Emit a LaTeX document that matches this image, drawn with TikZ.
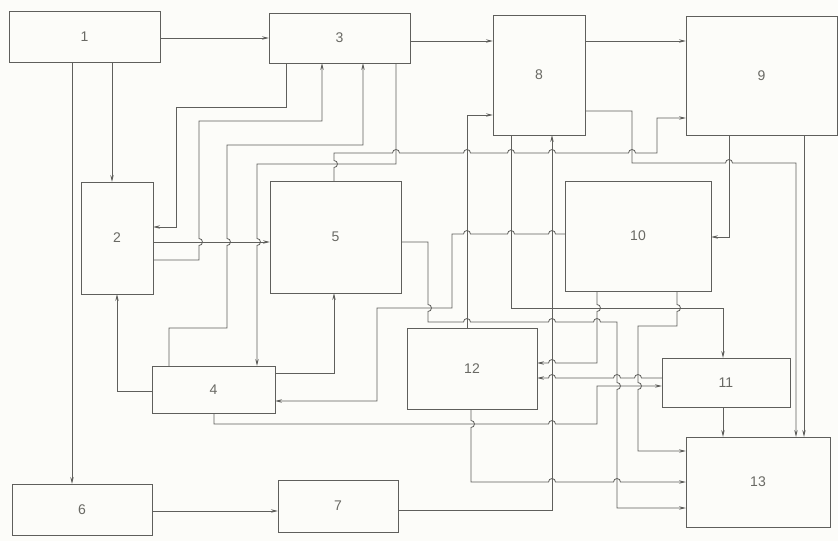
\documentclass[tikz,border=0pt]{standalone}
\usepackage{fontspec}
\setmainfont{Liberation Sans}
\usetikzlibrary{arrows.meta}
\definecolor{lc}{RGB}{95,95,92}
\definecolor{tc}{RGB}{105,105,100}
\definecolor{bg}{RGB}{252,252,249}
\newcommand\bumpR[2]{-- (#1-3.5,#2) arc[start angle=180,end angle=360,radius=3.5]}
\newcommand\bumpL[2]{-- (#1+3.5,#2) arc[start angle=0,end angle=-180,radius=3.5]}
\newcommand\bumpD[2]{-- (#1,#2-3.5) arc[start angle=270,end angle=450,radius=3.5]}
\newcommand\bumpU[2]{-- (#1,#2+3.5) arc[start angle=90,end angle=-90,radius=3.5]}
\newcommand\mkbox[6]{\node[boxx,minimum width={(#4-#2)*1pt},minimum height={(#5-#3)*1pt}] (#1) at ({(#2+#4)/2},{(#3+#5)/2}) {#6};}
\begin{document}
\begin{tikzpicture}[x=1pt,y=-1pt,
  boxx/.style={draw=lc,line width=0.8pt,inner sep=0pt,outer sep=0pt,text=tc,font=\fontsize{14}{16}\selectfont},
  ln/.style={draw=lc,line width=0.8pt},
  arr/.style={ln,-{Stealth[length=7pt,width=3.4pt]}}]
\fill[bg] (0,0) rectangle (838,541);
\useasboundingbox (0,0) rectangle (838,541);
% boxes
\mkbox{b1}{9}{11}{160}{62}{1}
\mkbox{b3}{269}{13}{410}{63}{3}
\mkbox{b8}{493}{15}{585}{135}{8}
\mkbox{b9}{686}{16}{837}{135}{9}
\mkbox{b2}{81}{182}{153}{294}{2}
\mkbox{b5}{270}{181}{401}{293}{5}
\mkbox{b10}{565}{181}{711}{291}{10}
\mkbox{b4}{152}{366}{275}{413}{4}
\mkbox{b12}{407}{328}{537}{409}{12}
\mkbox{b11}{662}{358}{790}{407}{11}
\mkbox{b13}{686}{437}{830}{527}{13}
\mkbox{b6}{12}{484}{152}{535}{6}
\mkbox{b7}{278}{480}{398}{532}{7}
% top row
\draw[arr] (b1.east |- 0,38) -- (b3.west |- 0,38);
\draw[arr] (b3.east |- 0,41) -- (b8.west |- 0,41);
\draw[arr] (b8.east |- 0,41) -- (b9.west |- 0,41);
% from 1
\draw[arr] (b1.south -| 112,0) -- (b2.north -| 112,0);
\draw[arr] (b1.south -| 72,0) -- (b6.north -| 72,0);
% 3 -> 2
\draw[arr] (b3.south -| 286,0) -- (286,107) -- (176,107) -- (176,227) -- (b2.east |- 0,227);
% 2 -> 3
\draw[arr] (b2.east |- 0,260) -- (199,260) \bumpU{199}{242} -- (199,121) -- (322,121) -- (b3.south -| 322,0);
% 4 -> 3
\draw[arr] (b4.north -| 169,0) -- (169,328) -- (227,328) \bumpU{227}{242} -- (227,145) -- (363,145) -- (b3.south -| 363,0);
% 3 -> 4
\draw[arr] (b3.south -| 396,0) -- (396,164) -- (257,164) \bumpD{257}{242} -- (b4.north -| 257,0);
% 2 -> 5
\draw[arr] (b2.east |- 0,242) -- (b5.west |- 0,242);
% 5 -> 9
\draw[arr] (b5.north -| 334,0) \bumpU{334}{164} -- (334,153) \bumpR{396}{153} \bumpR{467}{153} \bumpR{511}{153} \bumpR{552}{153} \bumpR{632}{153} -- (657,153) -- (657,118) -- (b9.west |- 0,118);
% 8 -> 13
\draw[arr] (b8.east |- 0,111) -- (632,111) -- (632,163) \bumpR{729}{163} -- (796,163) -- (b13.north -| 796,0);
% 9 -> 10
\draw[arr] (b9.south -| 729,0) -- (729,237) -- (b10.east |- 0,237);
% 9 -> 13
\draw[arr] (b9.south -| 804,0) -- (b13.north -| 804,0);
% 12 -> 8
\draw[arr] (b12.north -| 467,0) -- (467,115) -- (b8.west |- 0,115);
% 8 -> 11
\draw[arr] (b8.south -| 511,0) -- (511,308) -- (723,308) -- (b11.north -| 723,0);
% 7 -> 8
\draw[arr] (b7.east |- 0,510) -- (552,510) -- (b8.south -| 552,0);
% 5 -> 13
\draw[arr] (b5.east |- 0,242) -- (428,242) \bumpD{428}{308} -- (428,322) \bumpR{467}{322} \bumpR{552}{322} \bumpR{597}{322} -- (617,322) \bumpD{617}{386} -- (617,508) -- (b13.west |- 0,508);
% 10 -> 4
\draw[arr] (b10.west |- 0,234) \bumpL{552}{234} \bumpL{511}{234} \bumpL{467}{234} -- (452,234) -- (452,308) -- (377,308) -- (377,401) -- (b4.east |- 0,401);
% 4 -> 5
\draw[arr] (b4.east |- 0,373) -- (334,373) -- (b5.south -| 334,0);
% 4 -> 2
\draw[arr] (b4.west |- 0,391) -- (117,391) -- (b2.south -| 117,0);
% 4 -> 11
\draw[arr] (b4.south -| 214,0) -- (214,424) \bumpR{552}{424} -- (597,424) -- (597,386) -- (b11.west |- 0,386);
% 10 -> 12
\draw[arr] (b10.south -| 597,0) \bumpD{597}{308} -- (597,363) \bumpL{552}{363} -- (b12.east |- 0,363);
% 11 -> 12
\draw[arr] (b11.west |- 0,378) \bumpL{638}{378} \bumpL{617}{378} \bumpL{552}{378} -- (b12.east |- 0,378);
% 10 -> 13
\draw[arr] (b10.south -| 677,0) \bumpD{677}{308} -- (677,326) -- (638,326) \bumpD{638}{386} -- (638,451) -- (b13.west |- 0,451);
% 12 -> 13
\draw[arr] (b12.south -| 471,0) \bumpD{471}{424} -- (471,482) \bumpR{552}{482} \bumpR{617}{482} -- (b13.west |- 0,482);
% 11 -> 13
\draw[arr] (b11.south -| 723,0) -- (b13.north -| 723,0);
% 6 -> 7
\draw[arr] (b6.east |- 0,511) -- (b7.west |- 0,511);
\end{tikzpicture}
\end{document}
